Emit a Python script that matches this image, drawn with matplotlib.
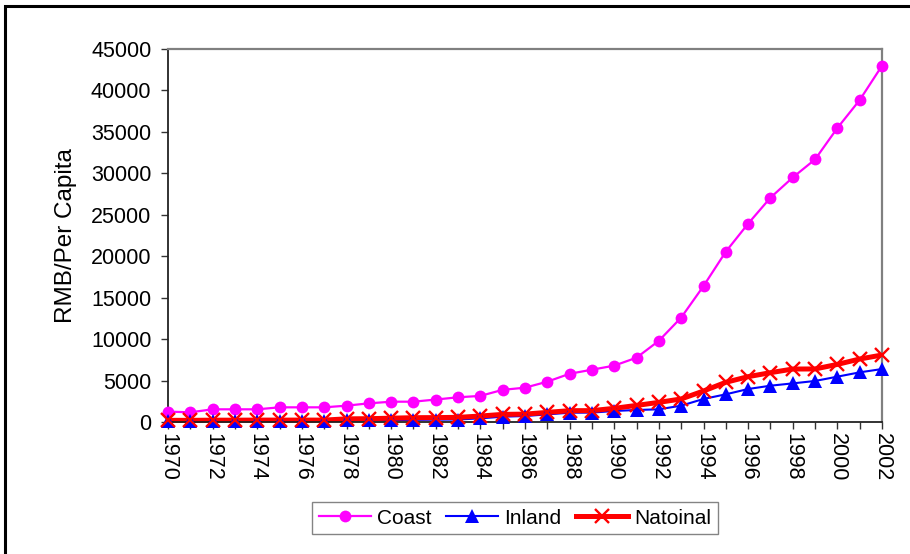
import matplotlib
matplotlib.use("Agg")
import matplotlib.pyplot as plt
from matplotlib.patches import Rectangle

plt.rcParams['font.family'] = ['Liberation Sans', 'DejaVu Sans']

years = list(range(1970, 2003))

coast = [1250, 1170, 1530, 1530, 1530, 1770, 1770, 1770, 1970, 2250,
         2450, 2450, 2710, 2980, 3150, 3880, 4140, 4865, 5820, 6310,
         6800, 7760, 9800, 12600, 16400, 20550, 23930, 27060, 29500, 31680,
         35470, 38840, 42980]

inland = [100, 100, 110, 110, 120, 120, 120, 120, 200, 210,
          230, 260, 280, 300, 440, 640, 720, 920, 1120, 1130,
          1330, 1450, 1530, 1970, 2780, 3340, 3980, 4380, 4660, 4950,
          5470, 5990, 6390]

national = [200, 200, 220, 220, 230, 230, 230, 230, 380, 400,
            460, 520, 530, 560, 720, 920, 950, 1160, 1370, 1370,
            1650, 2000, 2370, 2780, 3740, 4790, 5470, 5950, 6390, 6400,
            6950, 7600, 8080]

series_names = ["Coast", "Inland", "Natoinal"]
y_ticks = list(range(0, 45001, 5000))

W, H = 910, 554
fig = plt.figure(figsize=(W / 100, H / 100), dpi=100)

# frame around the chart object
fig.patches.append(Rectangle((5 / W, -0.1), 2.0, 1 - 6 / H + 0.1,
                             transform=fig.transFigure, fill=False,
                             edgecolor='black', linewidth=2.2))

ax = fig.add_axes([168 / W, 1 - 422 / H, (882 - 168) / W, (422 - 49) / H])

styles = [
    dict(color='#FF00FF', lw=1.6, marker='o', ms=8.5, mew=0, mec='#FF00FF'),
    dict(color='#0000FF', lw=1.5, marker='^', ms=9.5, mew=0, mec='#0000FF'),
    dict(color='#FF0000', lw=3.6, marker='x', ms=9.5, mew=1.7, mec='#FF0000'),
]
data = [coast, inland, national]

# lines first, then markers on top (all series)
for vals, st in zip(data, styles):
    ax.plot(years, vals, color=st['color'], lw=st['lw'], zorder=2,
            solid_capstyle='butt', clip_on=False)
for vals, st in zip(data, styles):
    ax.plot(years, vals, ls='none', marker=st['marker'], ms=st['ms'],
            mfc=st['color'], mec=st['mec'], mew=st['mew'], zorder=3,
            clip_on=False)

# legend proxies
handles = []
for name, st in zip(series_names, styles):
    h, = ax.plot([], [], color=st['color'], lw=st['lw'], marker=st['marker'],
                 ms=st['ms'], mfc=st['color'], mec=st['mec'], mew=st['mew'],
                 label=name)
    handles.append(h)

FS = 15.5
ax.set_xlim(1970, 2002)
ax.set_ylim(0, 45000)
ax.set_yticks(y_ticks)
ax.set_yticklabels([str(v) for v in y_ticks], fontsize=FS)
ax.set_xticks(years)
ax.set_xticklabels([str(y) if (y - 1970) % 2 == 0 else '' for y in years],
                   rotation=-90, fontsize=FS)
ax.tick_params(axis='y', direction='out', length=5, width=1, pad=7,
               color='#333333')
ax.tick_params(axis='x', direction='out', length=5, width=1, pad=3,
               color='#333333')

for side in ('top', 'right'):
    ax.spines[side].set_color('#808080')
    ax.spines[side].set_linewidth(1.6)
for side in ('left', 'bottom'):
    ax.spines[side].set_color('#222222')
    ax.spines[side].set_linewidth(1.3)

ax.set_ylabel('RMB/Per Capita', fontsize=17.5, labelpad=10)

leg = fig.legend(handles=handles, loc='center',
                 bbox_to_anchor=(515 / W, 1 - 518 / H), ncol=3,
                 fontsize=15, frameon=True, fancybox=False,
                 edgecolor='#666666', handlelength=2.5, handletextpad=0.3,
                 columnspacing=0.7, borderpad=0.3)
leg.get_frame().set_linewidth(1.0)

fig.savefig('out.png', dpi=100)
